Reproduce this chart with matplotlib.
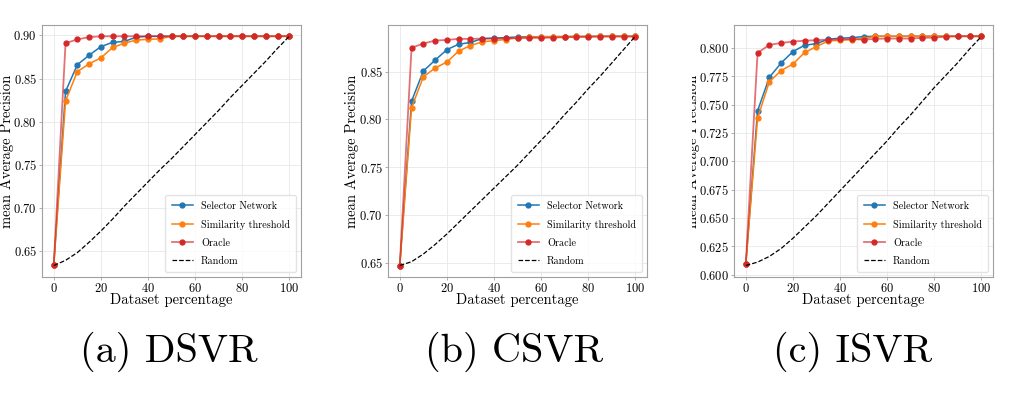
import matplotlib
matplotlib.use("Agg")
import matplotlib.pyplot as plt
from matplotlib.ticker import MultipleLocator
from matplotlib.transforms import Bbox

plt.rcParams['font.family'] = 'serif'
plt.rcParams['font.serif'] = ['cmr10']
plt.rcParams['mathtext.fontset'] = 'cm'
plt.rcParams['axes.formatter.use_mathtext'] = True

# dataset percentage used
pct = [0, 5, 10, 15, 20, 25, 30, 35, 40, 45, 50, 55, 60, 65, 70, 75, 80, 85, 90, 95, 100]

# (a) DSVR
dsvr_selector = [0.634, 0.835, 0.866, 0.877, 0.887, 0.892, 0.893, 0.898, 0.899, 0.899, 0.899, 0.899,
                 0.899, 0.899, 0.899, 0.899, 0.899, 0.899, 0.899, 0.899, 0.899]
dsvr_similarity = [0.634, 0.824, 0.858, 0.867, 0.874, 0.886, 0.891, 0.8946, 0.8954, 0.896, 0.899, 0.899,
                   0.899, 0.899, 0.899, 0.899, 0.899, 0.899, 0.899, 0.899, 0.899]
dsvr_oracle = [0.634, 0.891, 0.8954, 0.898, 0.899, 0.899, 0.899, 0.899, 0.899, 0.899, 0.899, 0.899,
               0.899, 0.899, 0.899, 0.899, 0.899, 0.899, 0.899, 0.899, 0.899]
dsvr_random = [0.633, 0.639, 0.648, 0.660, 0.673, 0.687, 0.702, 0.716, 0.730, 0.744, 0.757, 0.771,
               0.785, 0.799, 0.813, 0.828, 0.842, 0.856, 0.870, 0.885, 0.899]

# (b) CSVR
csvr_selector = [0.647, 0.819, 0.8507, 0.862, 0.873, 0.8787, 0.8805, 0.8846, 0.885, 0.8856, 0.8863, 0.8865,
                 0.8866, 0.8866, 0.8867, 0.8868, 0.8869, 0.887, 0.887, 0.887, 0.887]
csvr_similarity = [0.647, 0.8123, 0.8445, 0.8538, 0.860, 0.8715, 0.8773, 0.8811, 0.8825, 0.8836, 0.8856, 0.886,
                   0.8866, 0.8866, 0.8867, 0.8868, 0.8869, 0.887, 0.887, 0.887, 0.887]
csvr_oracle = [0.647, 0.875, 0.8794, 0.8825, 0.8832, 0.8843, 0.8843, 0.8846, 0.8846, 0.885, 0.885, 0.8853,
               0.8853, 0.8856, 0.886, 0.8863, 0.8863, 0.8867, 0.8867, 0.8867, 0.8867]
csvr_random = [0.647, 0.651, 0.659, 0.669, 0.680, 0.692, 0.704, 0.716, 0.728, 0.740, 0.752, 0.765,
               0.778, 0.791, 0.805, 0.818, 0.832, 0.845, 0.859, 0.873, 0.887]

# (c) ISVR
isvr_selector = [0.609, 0.7445, 0.774, 0.7867, 0.7968, 0.8024, 0.8038, 0.8077, 0.8086, 0.8091, 0.810, 0.8103,
                 0.8103, 0.8103, 0.8103, 0.8103, 0.8103, 0.8103, 0.8103, 0.8103, 0.8103]
isvr_similarity = [0.609, 0.738, 0.7702, 0.780, 0.7858, 0.796, 0.8012, 0.8062, 0.8068, 0.8074, 0.8083, 0.8103,
                   0.8103, 0.8103, 0.8103, 0.8103, 0.8103, 0.8103, 0.8103, 0.8103, 0.8103]
isvr_oracle = [0.609, 0.7956, 0.8027, 0.8044, 0.8056, 0.8065, 0.8068, 0.8074, 0.8077, 0.8077, 0.8074, 0.808,
               0.8083, 0.8083, 0.8083, 0.8089, 0.8091, 0.81, 0.8103, 0.8103, 0.8103]
isvr_random = [0.608, 0.611, 0.616, 0.623, 0.632, 0.642, 0.652, 0.663, 0.674, 0.685, 0.696, 0.707,
               0.718, 0.730, 0.741, 0.753, 0.765, 0.776, 0.787, 0.799, 0.810]

panels = [
    ("(a) DSVR", dsvr_selector, dsvr_similarity, dsvr_oracle, dsvr_random, 0.05, 0.0415, 169, -0.108),
    ("(b) CSVR", csvr_selector, csvr_similarity, csvr_oracle, csvr_random, 0.05, 0.3834, 514, -0.112),
    ("(c) ISVR", isvr_selector, isvr_similarity, isvr_oracle, isvr_random, 0.025, 0.7253, 853, -0.132),
]

fig = plt.figure(figsize=(10.12, 3.94), dpi=100)

for caption, sel, sim, ora, rnd, ystep, left, cx, ylab_x in panels:
    ax = fig.add_axes([left, 0.297, 0.256, 0.640])
    ax.plot(pct, sel, color='tab:blue', marker='o', markersize=3.5, lw=1.1, label='Selector Network')
    ax.plot(pct, sim, color='tab:orange', marker='o', markersize=3.5, lw=1.1, label='Similarity threshold')
    ax.plot(pct, ora, color=(0.84, 0.15, 0.16, 0.65), marker='o', markersize=3.5, lw=1.3,
            markerfacecolor='tab:red', markeredgecolor='tab:red', label='Oracle')
    ax.plot(pct, rnd, color='black', ls='--', lw=0.9, label='Random')

    ax.yaxis.set_major_locator(MultipleLocator(ystep))
    ax.xaxis.set_major_locator(MultipleLocator(20))
    ax.grid(True, color='#e8e8e8', lw=0.6)
    ax.set_axisbelow(True)
    for s in ax.spines.values():
        s.set_color('#a0a0a0')
    ax.tick_params(length=2, width=0.6, color='#a0a0a0', labelsize=9, pad=1.5)
    ax.set_xlabel('Dataset percentage', fontsize=10.5, labelpad=-1)
    ylab = ax.set_ylabel('mean Average Precision', fontsize=10.5)
    ax.yaxis.set_label_coords(ylab_x, 0.5)
    ax.legend(loc='lower right', fontsize=7.3, framealpha=0.8, edgecolor='#dddddd',
              labelspacing=0.85, handlelength=2.1, borderpad=0.6)

    if caption.startswith('(c)'):
        # the third sub-figure is cropped just left of its y label
        ylab.set_clip_box(Bbox.from_extents(692, 0, 1012, 394))
        ylab.set_clip_on(True)

    fig.text(cx / 1012, 1 - 352 / 394, caption, ha='center', va='center', fontsize=29)

fig.savefig('out.png', dpi=100)
